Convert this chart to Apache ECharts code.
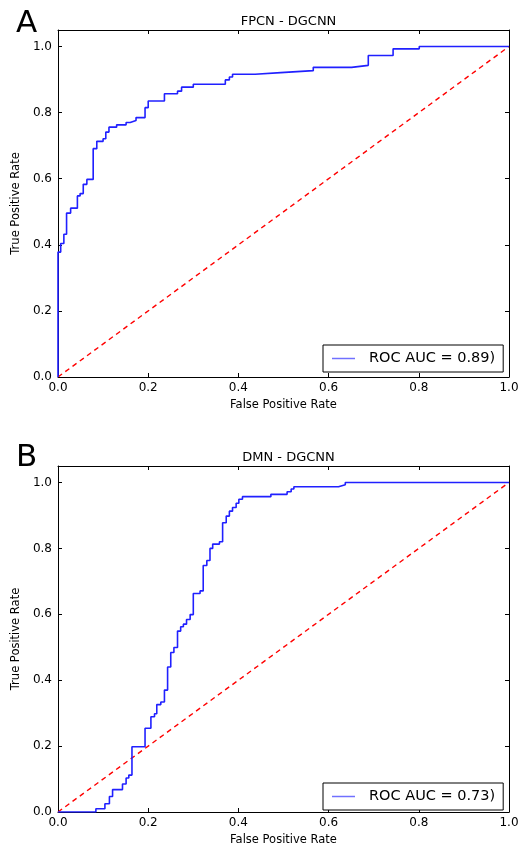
<!DOCTYPE html>
<html>
<head>
<meta charset="utf-8">
<script src="https://cdn.jsdelivr.net/npm/echarts@6/dist/echarts.min.js"></script>
<style>html,body{margin:0;padding:0;background:#fff;}#c{width:523px;height:847px;}</style>
</head>
<body>
<div id="c"></div>
<script>
// ---- data ----
const panelLetters = ['A', 'B'];
const panelTitles = ['FPCN - DGCNN', 'DMN - DGCNN'];
const legendNames = ['ROC AUC = 0.89)', 'ROC AUC = 0.73)'];
const xTicks = [0, 0.2, 0.4, 0.6, 0.8, 1.0];
const yTicks = [0, 0.2, 0.4, 0.6, 0.8, 1.0];

const fpcnFpr = [0, 0, 0.006, 0.013, 0.019, 0.028, 0.043, 0.049, 0.056, 0.064, 0.078, 0.086, 0.100, 0.106, 0.113, 0.130, 0.151, 0.160, 0.173, 0.193, 0.200, 0.236, 0.265, 0.274, 0.300, 0.371, 0.380, 0.387, 0.437, 0.494, 0.566, 0.651, 0.688, 0.743, 0.801, 1.0];
const fpcnTpr = [0, 0.378, 0.404, 0.432, 0.496, 0.511, 0.548, 0.555, 0.583, 0.598, 0.691, 0.713, 0.721, 0.741, 0.756, 0.763, 0.770, 0.776, 0.785, 0.815, 0.835, 0.857, 0.865, 0.877, 0.886, 0.899, 0.908, 0.916, 0.921, 0.927, 0.937, 0.943, 0.973, 0.993, 1.0, 1.0];

const dmnFpr = [0, 0.084, 0.104, 0.114, 0.121, 0.143, 0.151, 0.157, 0.164, 0.193, 0.206, 0.214, 0.219, 0.228, 0.236, 0.243, 0.250, 0.257, 0.265, 0.272, 0.278, 0.285, 0.293, 0.300, 0.315, 0.322, 0.330, 0.337, 0.343, 0.358, 0.365, 0.373, 0.380, 0.387, 0.395, 0.401, 0.409, 0.472, 0.508, 0.517, 0.523, 0.622, 0.637, 1.0];
const dmnTpr = [0, 0.010, 0.025, 0.047, 0.068, 0.085, 0.103, 0.112, 0.198, 0.254, 0.289, 0.298, 0.326, 0.334, 0.370, 0.440, 0.484, 0.499, 0.549, 0.562, 0.570, 0.584, 0.599, 0.663, 0.671, 0.748, 0.763, 0.800, 0.813, 0.820, 0.878, 0.898, 0.913, 0.924, 0.937, 0.949, 0.957, 0.964, 0.972, 0.980, 0.987, 0.993, 1.0, 1.0];

const chanceX = [0, 1];
const chanceY = [0, 1];

// ---- build ----
const zip = (a, b) => a.map((v, i) => [v, b[i]]);
const curves = [zip(fpcnFpr, fpcnTpr), zip(dmnFpr, dmnTpr)];
const chance = zip(chanceX, chanceY);

const FONT = 'DejaVu Sans';
const grids = [
  { left: 58, top: 30, width: 451, height: 347 },
  { left: 58, top: 466, width: 451, height: 349 }
];
const legendTops = [345, 783];

const xAxes = [], yAxes = [], series = [], titles = [], legends = [];
const tickLabel = v => (v > 1.0001 ? '' : v.toFixed(1));

grids.forEach((g, i) => {
  xAxes.push({
    gridIndex: i, type: 'value', min: 0, max: 1, interval: 0.2, position: 'bottom',
    name: 'False Positive Rate', nameLocation: 'middle', nameGap: 22,
    nameTextStyle: { fontFamily: FONT, fontSize: 11.5, color: '#000' },
    axisLine: { show: true, onZero: false, lineStyle: { color: '#000', width: 1 } },
    axisTick: { show: true, inside: true, length: 4, lineStyle: { color: '#000' } },
    axisLabel: { fontFamily: FONT, fontSize: 12, color: '#000', margin: 5, formatter: tickLabel },
    splitLine: { show: false }
  });
  xAxes.push({
    gridIndex: i, type: 'value', min: 0, max: 1, interval: 0.2, position: 'top',
    axisLine: { show: true, onZero: false, lineStyle: { color: '#000', width: 1 } },
    axisTick: { show: true, inside: true, length: 4, lineStyle: { color: '#000' } },
    axisLabel: { show: false }, splitLine: { show: false }
  });
  yAxes.push({
    gridIndex: i, type: 'value', min: 0, max: 1.05, interval: 0.2, position: 'left',
    name: 'True Positive Rate', nameLocation: 'middle', nameGap: 25, nameRotate: 90,
    nameTextStyle: { fontFamily: FONT, fontSize: 11.5, color: '#000' },
    axisLine: { show: true, onZero: false, lineStyle: { color: '#000', width: 1 } },
    axisTick: { show: true, inside: true, length: 4, lineStyle: { color: '#000' } },
    axisLabel: { fontFamily: FONT, fontSize: 12, color: '#000', margin: 6, formatter: tickLabel, showMaxLabel: false },
    splitLine: { show: false }
  });
  yAxes.push({
    gridIndex: i, type: 'value', min: 0, max: 1.05, interval: 0.2, position: 'right',
    axisLine: { show: true, onZero: false, lineStyle: { color: '#000', width: 1 } },
    axisTick: { show: true, inside: true, length: 4, lineStyle: { color: '#000' } },
    axisLabel: { show: false }, splitLine: { show: false }
  });
  series.push({
    type: 'line', name: legendNames[i], xAxisIndex: 2 * i, yAxisIndex: 2 * i,
    data: curves[i], step: 'end', showSymbol: false, symbol: 'none',
    lineStyle: { color: '#2020ff', width: 1.6 }, itemStyle: { color: '#2020ff' },
    animation: false, z: 3
  });
  series.push({
    type: 'line', name: 'chance' + i, xAxisIndex: 2 * i, yAxisIndex: 2 * i,
    data: chance, showSymbol: false, symbol: 'none',
    lineStyle: { color: '#ff0000', width: 1.4, type: [5, 4] },
    animation: false, z: 2
  });
  titles.push({
    text: panelTitles[i], left: g.left + g.width / 2, textAlign: 'center',
    top: g.top - 20,
    textStyle: { fontFamily: FONT, fontSize: 13, fontWeight: 'normal', color: '#000' }
  });
  titles.push({
    text: panelLetters[i], left: 11, top: i === 0 ? 3 : 437,
    textStyle: { fontFamily: FONT, fontSize: 31, fontWeight: 'normal', color: '#000' }
  });
  legends.push({
    data: [legendNames[i]], left: 323, top: legendTops[i], orient: 'horizontal',
    icon: 'rect', itemWidth: 23, itemHeight: 1.5, itemGap: 10,
    borderColor: '#000', borderWidth: 1, borderRadius: 0, padding: [6, 8, 6, 9],
    backgroundColor: '#fff', selectedMode: false,
    textStyle: { fontFamily: FONT, fontSize: 14.5, color: '#000', padding: [0, 0, 0, 9] },
    itemStyle: { color: '#7070ff' }
  });
});

const chart = echarts.init(document.getElementById('c'), null, { renderer: 'canvas' });
chart.setOption({
  backgroundColor: '#fff',
  animation: false,
  title: titles,
  grid: grids.map(g => Object.assign({ show: false, containLabel: false }, g)),
  xAxis: xAxes,
  yAxis: yAxes,
  legend: legends,
  series: series
});
</script>
</body>
</html>
